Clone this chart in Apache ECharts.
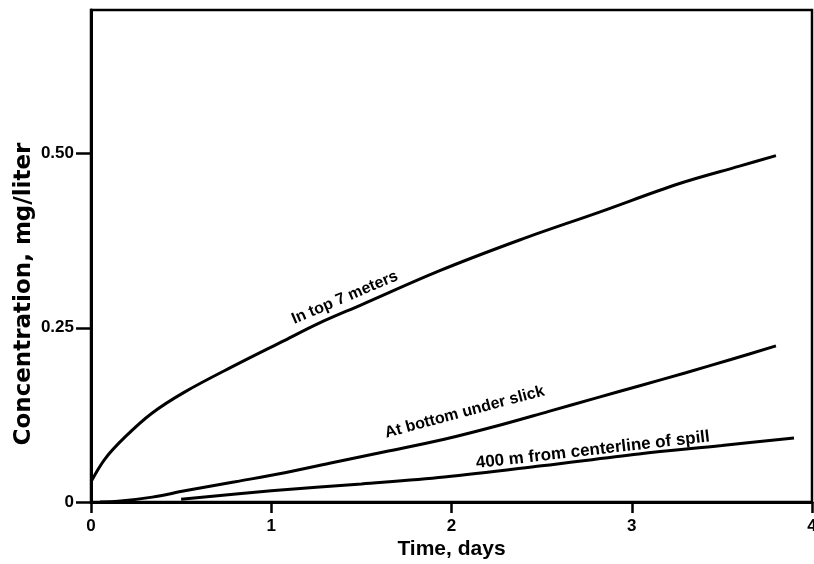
<!DOCTYPE html>
<html>
<head>
<meta charset="utf-8">
<script src="https://cdn.jsdelivr.net/npm/echarts@6/dist/echarts.min.js"></script>
<style>html,body{margin:0;padding:0;background:#fff}#c{width:814px;height:564px}</style>
</head>
<body>
<div id="c"></div>
<script>
// Time, days
const topDays = [0, 0.078, 0.188, 0.336, 0.521, 0.798, 1.075, 1.26, 1.5, 1.935, 2.378, 2.821, 3.265, 3.598, 3.8];
const topVals = [0.029, 0.062, 0.093, 0.127, 0.158, 0.196, 0.232, 0.256, 0.283, 0.332, 0.376, 0.416, 0.457, 0.482, 0.497];

const bottomDays = [0.05, 0.15, 0.34, 0.52, 0.8, 1.075, 1.35, 1.63, 1.96, 2.25, 2.54, 2.8, 3.04, 3.3, 3.55, 3.8];
const bottomVals = [0, 0.001, 0.007, 0.016, 0.029, 0.042, 0.057, 0.072, 0.090, 0.109, 0.130, 0.149, 0.1665, 0.1855, 0.2045, 0.224];

const offDays = [0.5, 1.0, 1.5, 1.96, 2.5, 3.04, 3.5, 3.9];
const offVals = [0.004, 0.016, 0.026, 0.036, 0.052, 0.069, 0.081, 0.092];

const yTicks = [0, 0.25, 0.5];
const xTicks = [0, 1, 2, 3, 4];
const curveNames = ['In top 7 meters', 'At bottom under slick', '400 m from centerline of spill'];
// label anchor points (day, value), angles, font sizes
const labelAt = [[1.408, 0.293], [2.073, 0.129], [2.784, 0.0744]];
const labelAngle = [23, 15, 6.5];
const labelSize = [16, 16, 17];

const FONT = '"Liberation Sans", Arial, sans-serif';
function pairs(xs, ys) { return xs.map((x, i) => [x, ys[i]]); }

function series(name, xs, ys, idx) {
  return {
    type: 'line', name: name, data: pairs(xs, ys), smooth: 0.35, symbol: 'none',
    lineStyle: { color: '#000', width: 3 }, silent: true,
    markPoint: {
      symbol: 'circle', symbolSize: 0, silent: true,
      data: [{ coord: labelAt[idx], value: name }],
      label: {
        show: true, formatter: name, rotate: labelAngle[idx], position: 'inside',
        color: '#000', fontFamily: FONT, fontWeight: 'bold', fontSize: labelSize[idx]
      }
    }
  };
}

const chart = echarts.init(document.getElementById('c'), null, { renderer: 'canvas' });
chart.setOption({
  animation: false,
  backgroundColor: '#fff',
  grid: { left: 91, right: 2, top: 10, bottom: 62, outerBoundsMode: 'none', containLabel: false,
    show: true, borderColor: '#000', borderWidth: 2.5, backgroundColor: 'transparent' },
  xAxis: {
    type: 'value', min: 0, max: 4, interval: 1,
    name: 'Time, days', nameLocation: 'middle', nameGap: 37, nameMoveOverlap: false,
    nameTextStyle: { fontFamily: FONT, fontWeight: 'bold', fontSize: 21, color: '#000' },
    axisLine: { show: true, lineStyle: { color: '#000', width: 3 } },
    axisTick: { show: true, length: 11, lineStyle: { color: '#000', width: 2.5 } },
    axisLabel: { fontFamily: FONT, fontWeight: 'bold', fontSize: 17, color: '#000', margin: 16,
      formatter: v => xTicks.indexOf(v) >= 0 ? String(v) : '' },
    splitLine: { show: false }
  },
  yAxis: {
    type: 'value', min: 0, max: 0.706, interval: 0.25,
    name: 'Concentration, mg/liter', nameLocation: 'middle', nameGap: 55, nameRotate: 90, nameMoveOverlap: false,
    nameTextStyle: { fontFamily: '"DejaVu Sans", sans-serif', fontWeight: 'bold', fontSize: 23, color: '#000',
      padding: [0, 76, 0, 0] },
    axisLine: { show: true, lineStyle: { color: '#000', width: 3 } },
    axisTick: { show: true, length: 15, lineStyle: { color: '#000', width: 2.5 } },
    axisLabel: { fontFamily: FONT, fontWeight: 'bold', fontSize: 17, color: '#000', margin: 17, showMaxLabel: false,
      formatter: v => { if (Math.abs(v) < 1e-9) return '0'; return yTicks.some(t => Math.abs(t - v) < 1e-9) ? v.toFixed(2) : ''; } },
    splitLine: { show: false }
  },
  series: [
    series(curveNames[0], topDays, topVals, 0),
    series(curveNames[1], bottomDays, bottomVals, 1),
    series(curveNames[2], offDays, offVals, 2)
  ]
});
</script>
</body>
</html>
